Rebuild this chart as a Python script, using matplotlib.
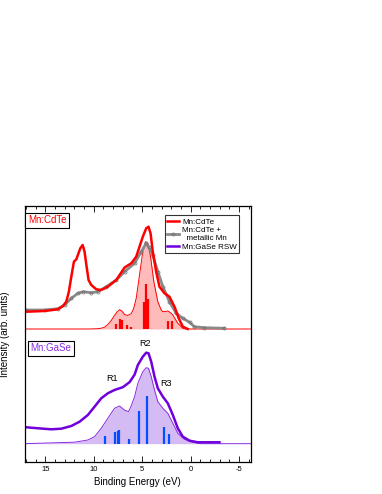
import matplotlib
matplotlib.use('Agg')
import matplotlib.pyplot as plt
import numpy as np
from matplotlib.ticker import MultipleLocator

plt.rcParams['font.family'] = ['Liberation Sans', 'DejaVu Sans']
plt.rcParams['axes.unicode_minus'] = False

# Binding energy (eV) / intensity (arb. units, relative to the panel baseline)
# --- Mn:CdTe panel ---
cdte_e = [16.96, 15.07, 13.70, 13.18, 12.84, 12.57, 12.32, 12.05, 11.80, 11.64,
          11.39, 11.15, 10.95, 10.74, 10.54, 10.26, 9.74, 9.23, 8.55, 7.68,
          6.82, 6.13, 5.62, 5.28, 4.94, 4.59, 4.35, 4.14, 3.91, 3.56,
          3.22, 2.70, 2.19, 1.67, 1.23, 0.81, 0.30]
cdte_i = [17.3, 18.0, 19.7, 23.0, 27.3, 37.3, 52.3, 67.3, 69.7, 74.0,
          80.7, 84.0, 77.3, 62.3, 49.0, 44.0, 39.7, 39.0, 42.3, 49.0,
          61.5, 65.7, 72.3, 82.3, 92.3, 100.7, 102.3, 95.7, 77.3, 57.3,
          42.3, 35.7, 32.3, 22.3, 10.7, 2.3, 0.0]

metal_e = [16.96, 15.07, 13.70, 13.01, 12.32, 11.64, 11.12, 10.26, 9.58, 8.71,
           7.68, 6.82, 5.79, 5.10, 4.59, 4.35, 3.91, 3.39, 2.87, 2.19,
           1.50, 0.81, 0.12, -0.39, -1.42, -3.48]
metal_i = [19.0, 19.0, 20.3, 24.0, 30.7, 35.7, 37.3, 36.3, 37.3, 42.3,
           49.0, 57.3, 65.7, 77.3, 85.7, 82.3, 74.0, 57.3, 42.3, 27.3,
           15.7, 10.7, 6.7, 2.3, 1.3, 0.7]

cdte_calc_e = [17.1, 10.5, 9.6, 9.23, 8.89, 8.55, 8.2, 7.9, 7.6, 7.34,
               7.1, 6.82, 6.5, 6.13, 5.9, 5.62, 5.28, 4.94, 4.66, 4.42,
               4.14, 3.80, 3.39, 3.04, 2.87, 2.6, 2.36, 2.1, 1.84, 1.33,
               0.81, 0.5, -6.2]
cdte_calc_i = [0.0, 0.0, 0.3, 0.8, 1.8, 4.5, 8.5, 13.0, 17.0, 19.3,
               18.0, 14.5, 13.5, 15.5, 20.0, 30.7, 54.0, 77.3, 87.3, 85.7,
               72.3, 47.3, 27.3, 19.0, 17.3, 17.5, 18.0, 16.5, 14.0, 5.7,
               0.7, 0.0, 0.0]

cdte_stick_e = [7.75, 7.34, 7.13, 6.60, 6.13, 4.80, 4.58, 4.40, 2.36, 1.95]
cdte_stick_i = [5.0, 9.7, 9.0, 3.5, 2.3, 27.3, 45.0, 30.0, 8.0, 8.0]

# --- Mn:GaSe panel ---
gase_e = [16.96, 15.76, 14.38, 13.35, 12.32, 11.46, 10.61, 9.92, 9.23, 8.55,
          7.86, 7.0, 6.31, 5.79, 5.45, 4.94, 4.59, 4.35, 4.07, 3.73,
          3.39, 2.87, 2.36, 1.84, 1.33, 0.81, 0.12, -0.73, -2.97]
gase_i = [16.4, 15.4, 14.4, 15.0, 17.7, 22.0, 28.7, 37.0, 45.4, 50.4,
          53.7, 56.5, 61.5, 69.0, 78.7, 87.0, 91.0, 90.4, 82.0, 67.0,
          55.4, 47.0, 40.4, 28.7, 15.4, 7.0, 3.0, 1.4, 1.4]

gase_calc_e = [17.1, 11.98, 10.61, 9.92, 9.23, 8.55, 7.86, 7.34, 6.82, 6.41,
               6.13, 5.79, 5.45, 4.94, 4.59, 4.35, 4.07, 3.73, 3.39, 2.87,
               2.36, 1.84, 1.33, 0.64, -0.05, -0.73, -1.2, -6.2]
gase_calc_i = [0.0, 1.5, 3.7, 7.0, 15.4, 25.4, 35.4, 37.7, 33.5, 32.0,
               38.0, 47.0, 60.4, 72.0, 76.0, 75.4, 67.0, 53.7, 42.0, 35.4,
               30.4, 20.4, 10.4, 4.4, 2.0, 0.4, 0.0, 0.0]

gase_stick_e = [8.89, 7.78, 7.52, 7.37, 6.41, 5.38, 4.49, 2.80, 2.22]
gase_stick_i = [7.7, 11.7, 13.0, 13.7, 4.7, 33.0, 47.7, 17.0, 9.7]

top_offset = 133.3
bottom_offset = 18.6

peak_labels = ['R1', 'R2', 'R3']
peak_label_e = [8.1, 4.76, 2.53]
peak_label_i = [65.4, 100.4, 59.7]

red = '#ff0000'
pink = '#ffbaba'
purple = '#7000dc'
lilac = '#d4bbf3'
lilac_edge = '#8a2be2'
blue = '#0050ff'
gray = '#8a8a8a'

fig = plt.figure(figsize=(3.82, 4.94), dpi=100)
ax = fig.add_axes([0.0654, 0.0642, 0.5910, 0.5194])

# top panel
y = np.array(cdte_calc_i) + top_offset
ax.fill_between(cdte_calc_e, top_offset, y, color=pink, lw=0)
ax.plot(cdte_calc_e, y, color=red, lw=0.7)
ax.vlines(cdte_stick_e, top_offset, np.array(cdte_stick_i) + top_offset,
          color=red, lw=1.6)
ax.plot(metal_e, np.array(metal_i) + top_offset, color=gray, lw=2.0,
        marker='o', ms=2.2, mfc='none', mec='#6e6e6e', mew=0.5,
        label='Mn:CdTe +\n  metallic Mn')
ax.plot(cdte_e, np.array(cdte_i) + top_offset, color=red, lw=1.8, label='Mn:CdTe')

# bottom panel
y = np.array(gase_calc_i) + bottom_offset
ax.fill_between(gase_calc_e, bottom_offset, y, color=lilac, lw=0)
ax.plot(gase_calc_e, y, color=lilac_edge, lw=0.7)
ax.vlines(gase_stick_e, bottom_offset, np.array(gase_stick_i) + bottom_offset,
          color=blue, lw=1.6)
ax.plot(gase_e, np.array(gase_i) + bottom_offset, color=purple, lw=1.8,
        label='Mn:GaSe RSW')

for lab, e, i in zip(peak_labels, peak_label_e, peak_label_i):
    ax.text(e, i + bottom_offset, lab, ha='center', va='center', fontsize=6.5)

box = dict(boxstyle='square,pad=0.25', fc='white', ec='black', lw=0.8)
ax.text(0.013, 0.944, 'Mn:CdTe', transform=ax.transAxes, color=red,
        fontsize=7, ha='left', va='center', bbox=box)
ax.text(0.025, 0.444, 'Mn:GaSe', transform=ax.transAxes, color='#8a2be2',
        fontsize=7, ha='left', va='center', bbox=box)

handles, labels = ax.get_legend_handles_labels()
order = [1, 0, 2]
leg = ax.legend([handles[k] for k in order], [labels[k] for k in order],
                loc='upper right', bbox_to_anchor=(0.95, 0.962), fontsize=5.8,
                frameon=True, fancybox=False, edgecolor='black',
                handlelength=1.5, handletextpad=0.35, labelspacing=0.15,
                borderpad=0.3, borderaxespad=0)
leg.get_frame().set_linewidth(0.8)

ax.set_xlim(17.1, -6.2)
ax.set_ylim(0, 256.6)
ax.set_yticks([])
ax.xaxis.set_major_locator(MultipleLocator(5))
ax.xaxis.set_minor_locator(MultipleLocator(1))
ax.tick_params(axis='x', which='both', direction='in', top=True, labelsize=5.5,
               pad=3)
ax.tick_params(axis='x', which='major', length=4, width=0.6)
ax.tick_params(axis='x', which='minor', length=2.4, width=0.6)
for s in ax.spines.values():
    s.set_linewidth(0.9)

ax.set_xlabel('Binding Energy (eV)', fontsize=7)
ax.xaxis.set_label_coords(0.5, -0.058)
ax.set_ylabel('Intensity (arb. units)', fontsize=7)
ax.yaxis.set_label_coords(-0.066, 0.5)

fig.savefig('out.png', dpi=100)
